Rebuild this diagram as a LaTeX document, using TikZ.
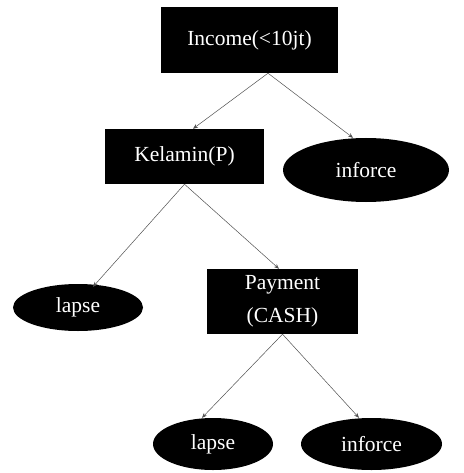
\documentclass[tikz,border=0pt]{standalone}
\usepackage{fontspec}
\setmainfont{Liberation Serif}
\usepackage{tikz}
\usetikzlibrary{shapes.geometric,arrows.meta}
\definecolor{edgegray}{RGB}{80,80,80}

\begin{document}
\begin{tikzpicture}[x=1pt,y=-1pt,
    testbox/.style={draw=none,fill=black,text=white,rectangle,align=center,
      font=\fontsize{21.5}{33}\selectfont,inner sep=0pt},
    leafnode/.style={draw=none,fill=black,text=white,ellipse,inner sep=0pt,
      font=\fontsize{21.5}{24}\selectfont},
    edge/.style={draw=edgegray,line width=0.5pt,-{Stealth[length=5pt,width=4pt]}}]
  \useasboundingbox (0,0) rectangle (463,473);
  % tests
  \node[testbox,minimum width=177pt,minimum height=66pt] (income) at (249.5,40) {Income(<10jt)};
  \node[testbox,minimum width=159pt,minimum height=55pt] (kelamin) at (184.5,156.5) {Kelamin(P)};
  \node[testbox,minimum width=151pt,minimum height=65pt] (payment) at (282.5,301.5) {Payment\\(CASH)};
  % leaves
  \node[leafnode,minimum width=166pt,minimum height=64pt] (inforceA) at (366,170) {inforce};
  \node[leafnode,minimum width=130pt,minimum height=47pt] (lapseA) at (78,307.5) {lapse};
  \node[leafnode,minimum width=120pt,minimum height=52pt] (lapseB) at (213,444) {lapse};
  \node[leafnode,minimum width=141pt,minimum height=52pt] (inforceB) at (371.5,444) {inforce};
  % edges
  \draw[edge] ([xshift=18.5pt]income.south) -- ([xshift=8.5pt]kelamin.north);
  \draw[edge] ([xshift=18.5pt]income.south) -- ([xshift=-13pt]inforceA.north);
  \draw[edge] (kelamin.south) -- ([xshift=15pt,yshift=-3pt]lapseA.north);
  \draw[edge] (kelamin.south) -- ([xshift=-3.5pt]payment.north);
  \draw[edge] (payment.south) -- ([xshift=-11pt]lapseB.north);
  \draw[edge] (payment.south) -- ([xshift=-12.5pt]inforceB.north);
\end{tikzpicture}
\end{document}
